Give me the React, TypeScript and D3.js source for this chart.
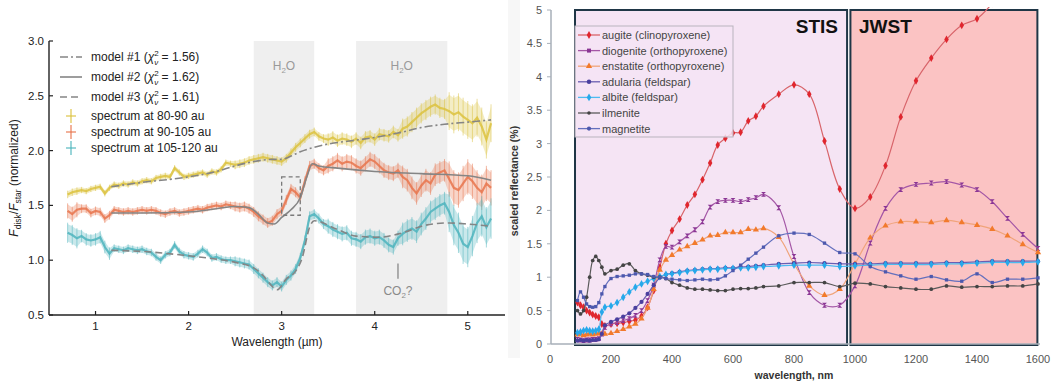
import React from "react";
import * as d3 from "d3";

// ---------- left panel: disk spectra (wavelength in micron) ----------
const specWl = [
  0.7, 0.75, 0.8, 0.85, 0.9, 0.95, 1.0, 1.05, 1.1, 1.15, 1.2, 1.25, 1.3, 1.35, 1.4, 1.45, 1.5, 1.55, 1.6, 1.65,
  1.7, 1.75, 1.8, 1.85, 1.9, 1.95, 2.0, 2.05, 2.1, 2.15, 2.2, 2.25, 2.3, 2.35, 2.4, 2.45, 2.5, 2.55, 2.6, 2.65,
  2.7, 2.75, 2.8, 2.85, 2.9, 2.95, 3.0, 3.05, 3.1, 3.15, 3.2, 3.25, 3.3, 3.35, 3.4, 3.45, 3.5, 3.55, 3.6, 3.65,
  3.7, 3.75, 3.8, 3.85, 3.9, 3.95, 4.0, 4.05, 4.1, 4.15, 4.2, 4.25, 4.3, 4.35, 4.4, 4.45, 4.5, 4.55, 4.6, 4.65,
  4.7, 4.75, 4.8, 4.85, 4.9, 4.95, 5.0, 5.05, 5.1, 5.15, 5.2, 5.25,
];
const spec8090 = [
  1.6, 1.62, 1.63, 1.64, 1.63, 1.65, 1.66, 1.67, 1.61, 1.66, 1.69, 1.68, 1.7, 1.69, 1.71, 1.7, 1.72, 1.73, 1.72, 1.75,
  1.76, 1.77, 1.76, 1.84, 1.8, 1.76, 1.77, 1.78, 1.79, 1.8, 1.78, 1.81, 1.8, 1.83, 1.89, 1.88, 1.87, 1.88, 1.89, 1.91,
  1.92, 1.93, 1.94, 1.93, 1.92, 1.91, 1.9, 1.93, 1.98, 2.03, 2.07, 2.11, 2.15, 2.17, 2.13, 2.11, 2.1, 2.12, 2.09, 2.11,
  2.1, 2.08, 2.11, 2.07, 2.12, 2.13, 2.1, 2.15, 2.14, 2.13, 2.17, 2.14, 2.2, 2.22, 2.26, 2.3, 2.34, 2.37, 2.4, 2.42,
  2.39, 2.38, 2.36, 2.33, 2.35, 2.31, 2.28, 2.25, 2.3, 2.22, 2.1, 2.25,
];
const spec90105 = [
  1.45, 1.42, 1.46, 1.47, 1.47, 1.43, 1.45, 1.44, 1.38, 1.41, 1.46, 1.45, 1.44, 1.45, 1.44, 1.45, 1.46, 1.45, 1.46, 1.45,
  1.43, 1.42, 1.44, 1.45, 1.43, 1.44, 1.45, 1.46, 1.47, 1.46, 1.48, 1.49, 1.5, 1.49, 1.51, 1.5, 1.49, 1.48, 1.49, 1.47,
  1.44, 1.4, 1.37, 1.34, 1.36, 1.42, 1.45, 1.55, 1.65, 1.62, 1.57, 1.72, 1.86, 1.88, 1.84, 1.82, 1.86, 1.88, 1.91, 1.88,
  1.9, 1.89, 1.86, 1.84, 1.88, 1.92, 1.9, 1.86, 1.82, 1.8, 1.79, 1.82, 1.76, 1.73, 1.66, 1.61, 1.68, 1.73, 1.7, 1.78,
  1.8, 1.82, 1.74, 1.66, 1.64, 1.7, 1.76, 1.72, 1.66, 1.62, 1.7, 1.66,
];
const spec105120 = [
  1.25, 1.23, 1.2, 1.22, 1.19, 1.18, 1.19, 1.21, 1.12, 1.06, 1.11, 1.1, 1.09, 1.11, 1.1, 1.09, 1.1, 1.08, 1.07, 1.03,
  1.0, 1.05, 1.07, 1.14, 1.08, 1.05, 1.04, 1.03, 1.06, 1.1, 1.07, 1.02, 1.03, 1.01, 1.0, 1.0, 0.99, 0.98, 0.97, 0.96,
  0.92, 0.88, 0.84, 0.8, 0.77, 0.8, 0.76, 0.82, 0.86, 0.92, 1.02, 1.18, 1.4, 1.42, 1.38, 1.33, 1.31, 1.28, 1.26, 1.24,
  1.25, 1.2, 1.19, 1.17, 1.21, 1.22, 1.2, 1.21, 1.18, 1.14, 1.12, 1.2, 1.24, 1.27, 1.29, 1.26, 1.33, 1.38, 1.44, 1.47,
  1.5, 1.52, 1.44, 1.32, 1.25, 1.15, 1.12, 1.22, 1.34, 1.4, 1.3, 1.38,
];
// error bar half-length per wavelength segment
const errEdges = [0.7, 0.85, 1.2, 2.5, 3.5, 4.3, 4.8, 5.3];
const err8090 = [0.03, 0.025, 0.025, 0.035, 0.05, 0.08, 0.15];
const err90105 = [0.06, 0.035, 0.03, 0.04, 0.06, 0.09, 0.14];
const err105120 = [0.08, 0.05, 0.03, 0.04, 0.06, 0.09, 0.16];

const model1Wl = [1.17, 1.5, 2.0, 2.3, 2.5, 2.7, 2.9, 3.0, 3.1, 3.2, 3.35, 3.5, 3.75, 4.0, 4.25, 4.5, 4.75, 5.0, 5.25];
const model1 = [1.67, 1.71, 1.76, 1.81, 1.86, 1.9, 1.92, 1.92, 1.95, 1.99, 2.03, 2.06, 2.09, 2.12, 2.16, 2.21, 2.24, 2.26, 2.28];
const model2Wl = [1.17, 1.5, 2.0, 2.3, 2.5, 2.65, 2.75, 2.85, 2.92, 3.0, 3.1, 3.2, 3.27, 3.33, 3.4, 3.6, 4.0, 4.5, 5.0, 5.25];
const model2 = [1.43, 1.43, 1.44, 1.47, 1.49, 1.48, 1.42, 1.34, 1.33, 1.39, 1.46, 1.57, 1.76, 1.88, 1.86, 1.84, 1.81, 1.79, 1.77, 1.73];
const model3Wl = [1.17, 1.5, 2.0, 2.3, 2.5, 2.7, 2.8, 2.9, 2.95, 3.05, 3.15, 3.22, 3.3, 3.35, 3.6, 3.8, 4.05, 4.3, 4.55, 4.8, 5.0, 5.25];
const model3 = [1.09, 1.08, 1.04, 1.01, 0.98, 0.93, 0.86, 0.76, 0.73, 0.83, 0.9, 1.02, 1.3, 1.36, 1.28, 1.22, 1.21, 1.25, 1.32, 1.34, 1.33, 1.31];

const h2oBands = [[2.7, 3.35], [3.8, 4.78]];
const leftXTicks = [1, 2, 3, 4, 5];
const leftYTicks = [0.5, 1.0, 1.5, 2.0, 2.5, 3.0];

// ---------- right panel: mineral reflectance (wavelength in nm) ----------
const nmGrid = [
  90, 100, 110, 120, 130, 140, 150, 160, 170, 180, 200, 220, 240, 260, 280, 300, 320, 340, 360, 380, 400, 425, 450,
  475, 500, 525, 550, 575, 600, 625, 650, 675, 700, 750, 800, 850, 900, 950, 1000, 1050, 1100, 1150, 1200, 1250,
  1300, 1350, 1400, 1450, 1500, 1550, 1600,
];
const augite = [
  0.62, 0.58, 0.55, 0.5, 0.47, 0.44, 0.42, 0.4, 0.3, 0.27, 0.3, 0.31, 0.32, 0.34, 0.36, 0.42, 0.55, 0.8, 1.15, 1.5, 1.7,
  1.87, 2.08, 2.24, 2.46, 2.71, 2.98, 3.08, 3.16, 3.17, 3.34, 3.41, 3.56, 3.74, 3.88, 3.74, 3.04, 2.32, 2.03, 2.2, 2.67,
  3.4, 3.94, 4.28, 4.56, 4.77, 4.87, 5.1, NaN, NaN, NaN,
];
const diogenite = [
  0.07, 0.06, 0.05, 0.06, 0.06, 0.07, 0.07, 0.08, 0.15, 0.25, 0.3, 0.32, 0.35, 0.38, 0.43, 0.5, 0.65, 0.88, 1.26, 1.46,
  1.45, 1.53, 1.62, 1.71, 1.83, 2.05, 2.13, 2.15, 2.15, 2.13, 2.16, 2.19, 2.24, 2.04, 1.31, 0.77, 0.58, 0.58, 0.87, 1.51,
  2.03, 2.31, 2.39, 2.41, 2.43, 2.38, 2.31, 2.13, 1.88, 1.64, 1.43,
];
const enstatite = [
  0.14, 0.15, 0.13, 0.14, 0.15, 0.14, 0.15, 0.16, 0.15, 0.15, 0.16, 0.19, 0.22, 0.26, 0.3, 0.38, 0.54, 0.82, 1.11, 1.26,
  1.33, 1.41, 1.46, 1.51, 1.56, 1.62, 1.63, 1.67, 1.67, 1.67, 1.72, 1.71, 1.73, 1.6, 1.2, 0.87, 0.73, 0.82, 1.2, 1.59,
  1.77, 1.83, 1.83, 1.82, 1.85, 1.82, 1.78, 1.72, 1.62, 1.49, 1.37,
];
const adularia = [
  0.05, 0.06, 0.05, 0.06, 0.05, 0.06, 0.06, 0.07, 0.15, 0.28, 0.33, 0.37, 0.41, 0.46, 0.54, 0.63, 0.75, 0.88, 0.99, 1.04,
  1.06, 1.08, 1.1, 1.11, 1.12, 1.13, 1.13, 1.14, 1.14, 1.15, 1.16, 1.17, 1.18, 1.2, 1.21, 1.22, 1.21, 1.2, 1.2, 1.2,
  1.21, 1.21, 1.21, 1.21, 1.22, 1.22, 1.23, 1.24, 1.24, 1.24, 1.24,
];
const albite = [
  0.17, 0.18, 0.2, 0.21, 0.2, 0.19, 0.2, 0.22, 0.48, 0.55, 0.57, 0.62, 0.7, 0.78, 0.85, 0.9, 0.94, 0.98, 1.01, 1.04,
  1.05, 1.07, 1.09, 1.1, 1.11, 1.12, 1.12, 1.13, 1.13, 1.14, 1.14, 1.15, 1.16, 1.17, 1.18, 1.18, 1.18, 1.16, 1.17, 1.18,
  1.19, 1.19, 1.19, 1.19, 1.2, 1.2, 1.21, 1.22, 1.22, 1.22, 1.23,
];
const ilmenite = [
  0.5, 0.45, 0.5, 0.7, 1.0, 1.25, 1.31, 1.25, 1.15, 1.05, 1.1, 1.12, 1.18, 1.2, 1.1, 1.05, 1.03, 1.0, 1.0, 0.98, 0.92,
  0.88, 0.84, 0.82, 0.82, 0.81, 0.8, 0.8, 0.82, 0.83, 0.83, 0.84, 0.86, 0.87, 0.92, 0.92, 0.92, 0.86, 0.91, 0.9, 0.86,
  0.84, 0.82, 0.82, 0.87, 0.85, 0.86, 0.86, 0.87, 0.87, 0.9,
];
const magnetite = [
  0.65, 0.78, 0.7, 0.6, 0.56, 0.55, 0.56, 0.62, 0.75, 0.86, 0.98, 1.01, 1.02, 1.03, 1.05, 1.05, 1.04, 1.01, 1.0, 0.98,
  0.97, 0.96, 0.95, 0.96, 0.97, 0.96, 0.97, 1.02, 1.1, 1.18, 1.27, 1.36, 1.45, 1.62, 1.66, 1.64, 1.51, 1.37, 1.35, 1.16,
  1.08, 1.02, 0.97, 1.01, 0.96, 0.94, 1.05, 0.92, 0.97, 0.97, 0.99,
];
const stisRange = [82, 974];
const jwstRange = [985, 1598];
const rightXTicks = [0, 200, 400, 600, 800, 1000, 1200, 1400, 1600];
const rightYTicks = [0, 0.5, 1, 1.5, 2, 2.5, 3, 3.5, 4, 4.5, 5];

const FONT = "'Liberation Sans', Arial, sans-serif";

const bowtie = "M-2.4,-2.4L2.4,-2.4L-2.4,2.4L2.4,2.4Z";
const sym = (t: any, s: number) => d3.symbol().type(t).size(s)() as string;

const minerals = [
  { name: "augite (clinopyroxene)", values: augite, line: "#d8646a", mark: "#e0262e", shape: sym(d3.symbolDiamond, 18), legendShape: sym(d3.symbolDiamond, 18) },
  { name: "diogenite (orthopyroxene)", values: diogenite, line: "#a457a6", mark: "#8a3594", shape: bowtie, legendShape: sym(d3.symbolSquare, 16) },
  { name: "enstatite (orthopyroxene)", values: enstatite, line: "#f0a47a", mark: "#f27a2c", shape: sym(d3.symbolTriangle, 17), legendShape: sym(d3.symbolTriangle, 17) },
  { name: "adularia (feldspar)", values: adularia, line: "#6a5eb2", mark: "#4a3f9e", shape: sym(d3.symbolCircle, 14), legendShape: sym(d3.symbolCircle, 16) },
  { name: "albite (feldspar)", values: albite, line: "#4cbbf0", mark: "#27a8ea", shape: sym(d3.symbolDiamond, 18), legendShape: sym(d3.symbolDiamond, 18) },
  { name: "ilmenite", values: ilmenite, line: "#5a5a5a", mark: "#444444", shape: sym(d3.symbolCircle, 11), legendShape: sym(d3.symbolCircle, 10) },
  { name: "magnetite", values: magnetite, line: "#6470bd", mark: "#4d58ad", shape: sym(d3.symbolSquare, 11), legendShape: sym(d3.symbolCircle, 14) },
];

function LeftPanel() {
  const x = d3.scaleLinear().domain([0.5, 5.4]).range([49, 505]);
  const y = d3.scaleLinear().domain([0.5, 3.0]).range([315, 41]);

  const errAt = (errs: number[], wl: number) =>
    errs[Math.max(0, Math.min(errs.length - 1, d3.bisectRight(errEdges, wl) - 1))];

  const spectra = [
    { vals: spec8090, errs: err8090, color: "#dcc23e", label: "spectrum at 80-90 au" },
    { vals: spec90105, errs: err90105, color: "#e8744c", label: "spectrum at 90-105 au" },
    { vals: spec105120, errs: err105120, color: "#4db4bd", label: "spectrum at 105-120 au" },
  ];

  const models = [
    { wl: model1Wl, vals: model1, dash: "8,3,2,3", chi: "1.56", n: "1" },
    { wl: model2Wl, vals: model2, dash: "", chi: "1.62", n: "2" },
    { wl: model3Wl, vals: model3, dash: "7,4", chi: "1.61", n: "3" },
  ];

  const line = d3.line<[number, number]>().x((d) => x(d[0])).y((d) => y(d[1]));
  const smooth = d3.line<[number, number]>().x((d) => x(d[0])).y((d) => y(d[1])).curve(d3.curveMonotoneX);

  return (
    <g fontFamily={FONT}>
      {h2oBands.map((b, i) => (
        <g key={i}>
          <rect x={x(b[0])} y={y(3.0)} width={x(b[1]) - x(b[0])} height={y(0.5) - y(3.0)} fill="#efefef" />
          <text x={(x(b[0]) + x(b[1])) / 2} y={70} textAnchor="middle" fontSize={12} fill="#9a9a9a">
            H<tspan fontSize={8} dy={3}>2</tspan><tspan dy={-3}>O</tspan>
          </text>
        </g>
      ))}

      {spectra.map((s, si) => {
        const pts = specWl.map((w, i) => [w, s.vals[i], errAt(s.errs, w)]);
        const area = d3
          .area<number[]>()
          .x((d) => x(d[0]))
          .y0((d) => y(d[1] - d[2]))
          .y1((d) => y(d[1] + d[2]));
        return (
          <g key={si}>
            <path d={area(pts) as string} fill={s.color} opacity={0.3} />
            {pts.map((p, i) => (
              <line key={i} x1={x(p[0])} x2={x(p[0])} y1={y(p[1] - p[2] * 1.15)} y2={y(p[1] + p[2] * 1.15)}
                stroke={s.color} strokeWidth={1} opacity={0.5} />
            ))}
            <path d={line(pts.map((p) => [p[0], p[1]] as [number, number])) as string} fill="none"
              stroke={s.color} strokeWidth={2.2} opacity={0.85} />
          </g>
        );
      })}

      {models.map((m, mi) => (
        <path key={mi} d={smooth(m.wl.map((w, i) => [w, m.vals[i]] as [number, number])) as string}
          fill="none" stroke="#858585" strokeWidth={1.6} strokeDasharray={m.dash} />
      ))}

      {/* dashed box around the 3.1 um feature */}
      <rect x={x(3.0)} y={y(1.76)} width={x(3.2) - x(3.0)} height={y(1.41) - y(1.76)} fill="none"
        stroke="#7a7a7a" strokeWidth={1.3} strokeDasharray="4,3" />

      {/* CO2 marker */}
      <line x1={x(4.25)} x2={x(4.25)} y1={y(0.97)} y2={y(0.83)} stroke="#888" strokeWidth={1.3} />
      <text x={x(4.25)} y={295} textAnchor="middle" fontSize={12} fill="#8a8a8a">
        CO<tspan fontSize={8} dy={3}>2</tspan><tspan dy={-3}>?</tspan>
      </text>

      {/* axes */}
      <line x1={49} x2={49} y1={y(3.0)} y2={y(0.5)} stroke="#222" strokeWidth={1.4} />
      <line x1={49} x2={505} y1={y(0.5)} y2={y(0.5)} stroke="#222" strokeWidth={1.4} />
      {leftYTicks.map((t) => (
        <g key={t}>
          <line x1={49} x2={53} y1={y(t)} y2={y(t)} stroke="#222" strokeWidth={1.2} />
          <text x={44} y={y(t) + 4} textAnchor="end" fontSize={11.5} fill="#222">{t.toFixed(1)}</text>
        </g>
      ))}
      {leftXTicks.map((t) => (
        <g key={t}>
          <line x1={x(t)} x2={x(t)} y1={y(0.5)} y2={y(0.5) - 4} stroke="#222" strokeWidth={1.2} />
          <text x={x(t)} y={330} textAnchor="middle" fontSize={11.5} fill="#222">{t}</text>
        </g>
      ))}
      <text x={277} y={346} textAnchor="middle" fontSize={12} fill="#222">Wavelength (µm)</text>
      <text transform="translate(18,178) rotate(-90)" textAnchor="middle" fontSize={12} fill="#222">
        <tspan fontStyle="italic">F</tspan><tspan fontSize={8.5} dy={3}>disk</tspan>
        <tspan dy={-3}>/</tspan><tspan fontStyle="italic">F</tspan><tspan fontSize={8.5} dy={3}>star</tspan>
        <tspan dy={-3}> (normalized)</tspan>
      </text>

      {/* legend */}
      {models.map((m, i) => {
        const cy = 57 + i * 20;
        return (
          <g key={i}>
            <line x1={60} x2={82} y1={cy} y2={cy} stroke="#858585" strokeWidth={1.6} strokeDasharray={m.dash} />
            <text x={91} y={cy + 4} fontSize={12} fill="#222">
              model #{m.n} (<tspan fontStyle="italic">χ</tspan>
              <tspan fontSize={8} dy={-5}>2</tspan>
              <tspan fontSize={8} dx={-4.5} dy={9} fontStyle="italic">ν</tspan>
              <tspan dy={-4}> = {m.chi})</tspan>
            </text>
          </g>
        );
      })}
      {spectra.map((s, i) => {
        const cy = 116 + i * 16;
        return (
          <g key={i}>
            <line x1={66} x2={76} y1={cy} y2={cy} stroke={s.color} strokeWidth={1.5} opacity={0.75} />
            <line x1={71} x2={71} y1={cy - 7} y2={cy + 7} stroke={s.color} strokeWidth={1.5} opacity={0.75} />
            <text x={91} y={cy + 4} fontSize={12} fill="#222">{s.label}</text>
          </g>
        );
      })}
    </g>
  );
}

function RightPanel() {
  const x = d3.scaleLinear().domain([0, 1600]).range([550, 1038]);
  const y = d3.scaleLinear().domain([0, 5]).range([344, 10]);
  const line = d3
    .line<[number, number]>()
    .defined((d) => Number.isFinite(d[1]))
    .x((d) => x(d[0]))
    .y((d) => y(d[1]))
    .curve(d3.curveCatmullRom.alpha(0.5));

  const axisColor = "#a7afb8";

  return (
    <g fontFamily={FONT}>
      <defs>
        <clipPath id="rclip">
          <rect x={551} y={7} width={492} height={340} />
        </clipPath>
      </defs>

      <rect x={x(stisRange[0])} y={10} width={x(stisRange[1]) - x(stisRange[0])} height={335}
        fill="#f5e4f4" stroke="#1f3646" strokeWidth={2} />
      <rect x={x(jwstRange[0])} y={10} width={x(jwstRange[1]) - x(jwstRange[0])} height={335}
        fill="#fbc3c3" stroke="#1f3646" strokeWidth={2} />
      <text x={838} y={33} textAnchor="end" fontSize={19} fontWeight="bold" fill="#111">STIS</text>
      <text x={859} y={33} fontSize={19} fontWeight="bold" fill="#111">JWST</text>

      {/* axes */}
      <line x1={551} x2={551} y1={10} y2={344} stroke={axisColor} strokeWidth={1.5} />
      <line x1={551} x2={1040} y1={344} y2={344} stroke={axisColor} strokeWidth={1.5} />
      {rightYTicks.map((t) => (
        <g key={t}>
          <line x1={547} x2={551} y1={y(t)} y2={y(t)} stroke={axisColor} strokeWidth={1} />
          <text x={542} y={y(t) + 4} textAnchor="end" fontSize={11} fill="#555">{t}</text>
        </g>
      ))}
      {rightXTicks.map((t) => (
        <text key={t} x={x(t)} y={363} textAnchor="middle" fontSize={11} fill="#555">{t}</text>
      ))}
      <text x={794} y={379} textAnchor="middle" fontSize={10.5} fontWeight="bold" fill="#333">wavelength, nm</text>
      <text transform="translate(518,181) rotate(-90)" textAnchor="middle" fontSize={10.5} fontWeight="bold" fill="#333">
        scaled reflectance (%)
      </text>

      {/* curves */}
      <g clipPath="url(#rclip)">
        {minerals.map((m, mi) => {
          const pts = nmGrid.map((n, i) => [n, m.values[i]] as [number, number]);
          return (
            <g key={mi}>
              <path d={line(pts) as string} fill="none" stroke={m.line} strokeWidth={1.2} />
              {pts.filter((p) => Number.isFinite(p[1])).map((p, i) => (
                <path key={i} d={m.shape} transform={`translate(${x(p[0])},${y(p[1])})`} fill={m.mark} />
              ))}
            </g>
          );
        })}
      </g>

      {/* legend */}
      <rect x={575} y={26} width={158} height={111} fill="#f5e4f4" fillOpacity={0.85} stroke="#b9b3bd" strokeWidth={1} />
      {minerals.map((m, i) => {
        const cy = 35 + i * 15.6;
        return (
          <g key={i}>
            <line x1={578} x2={600} y1={cy} y2={cy} stroke={m.line} strokeWidth={1.3} />
            <path d={m.legendShape} transform={`translate(589,${cy})`} fill={m.mark} />
            <text x={602} y={cy + 4} fontSize={11} fill="#444">{m.name}</text>
          </g>
        );
      })}
    </g>
  );
}

export default function App() {
  return (
    <svg width={1051} height={386} style={{ position: "absolute", left: 0, top: 0, background: "#fff" }}>
      <rect x={0} y={0} width={1051} height={386} fill="#fff" />
      <rect x={508} y={0} width={12} height={358} fill="#f7f7f7" />
      <LeftPanel />
      <RightPanel />
    </svg>
  );
}
